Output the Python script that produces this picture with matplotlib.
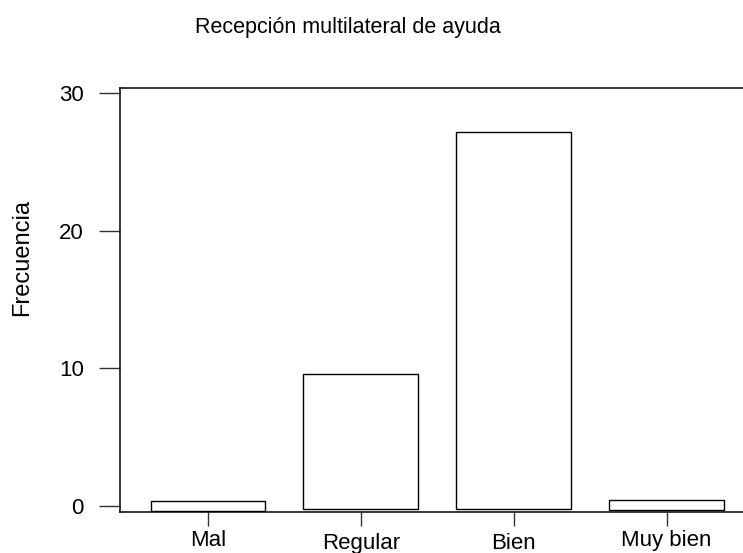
import matplotlib

matplotlib.use("Agg")
import matplotlib.pyplot as plt

# Data
categories = ["Mal", "Regular", "Bien", "Muy bien"]
bar_tops = [0.36, 9.6, 27.2, 0.44]
bar_bottoms = [-0.36, -0.2, -0.2, -0.3]
yticks = [0, 10, 20, 30]
label_drop = [0, 3, 3, 0]  # staggered x labels, in pixels

plt.rcParams["font.family"] = ["Liberation Sans", "DejaVu Sans"]

W, H = 743, 553
fig = plt.figure(figsize=(W / 100, H / 100), dpi=100)
# axes box in pixels: left 120, right 743, top 88, bottom 512
ax = fig.add_axes([120 / W, 1 - 512 / H, (743 - 120) / W, (512 - 88) / H])

heights = [t - b for t, b in zip(bar_tops, bar_bottoms)]
ax.bar(range(len(categories)), heights, bottom=bar_bottoms, width=0.75,
       color="white", edgecolor="black", linewidth=1.0)

ax.set_xlim(-0.575, 3.5)
ax.set_ylim(-0.44, 30.4)

ax.spines["right"].set_visible(False)
for s in ["left", "top", "bottom"]:
    ax.spines[s].set_linewidth(1.1)

ax.set_yticks(yticks)
ax.set_yticklabels([str(v) for v in yticks])
ax.tick_params(axis="y", length=15, width=1, pad=11, labelsize=16,
               color="#333333")

ax.set_xticks(range(len(categories)))
ax.set_xticklabels(categories)
ax.tick_params(axis="x", length=10, width=1, pad=3, labelsize=16,
               color="#333333")
for lab, d in zip(ax.get_xticklabels(), label_drop):
    lab.set_y(-d / 424)

fig.text(22 / W, 1 - 257 / H, "Frecuencia", fontsize=17,
         rotation=90, ha="center", va="center")
fig.text(348 / W, 1 - 28 / H, "Recepción multilateral de ayuda",
         fontsize=15.5, ha="center", va="center")

fig.savefig("out.png", dpi=100)
